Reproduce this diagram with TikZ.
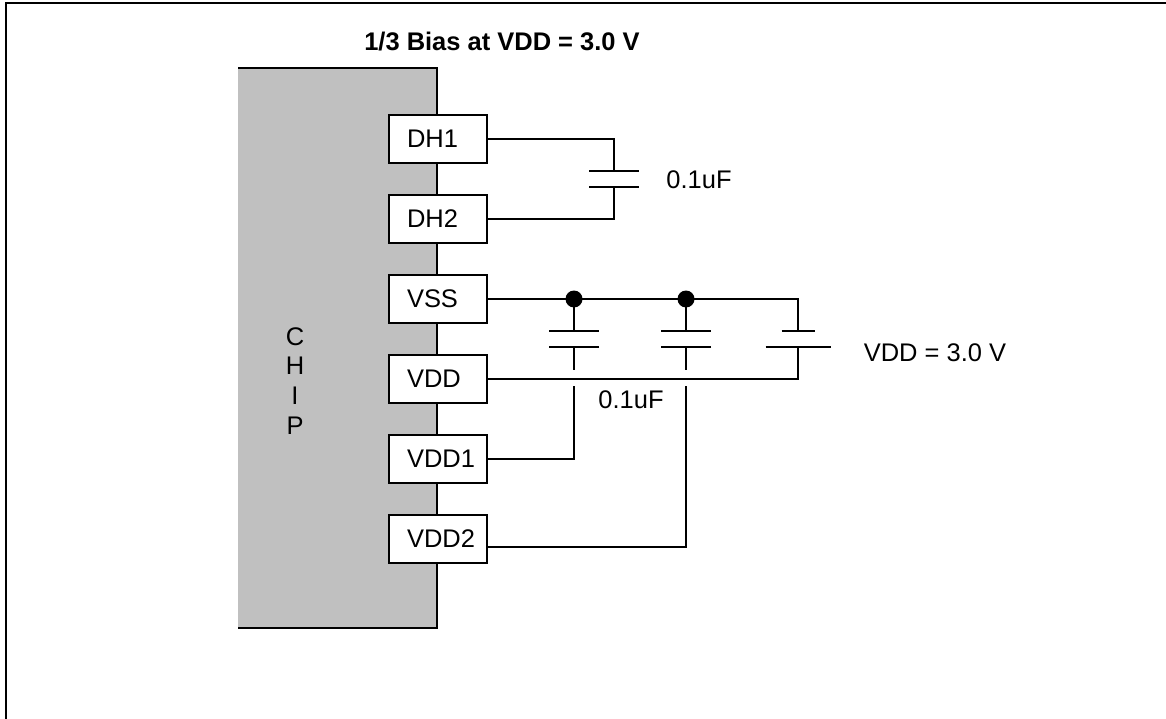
\documentclass[tikz,border=0pt]{standalone}
\usepackage{fontspec}
\setmainfont{Liberation Sans}
\definecolor{chipgray}{RGB}{192,192,192}
\begin{document}
\begin{tikzpicture}[x=0.02cm,y=-0.02cm,line join=miter,line width=1.1pt,
	font=\fontsize{14.5}{17}\selectfont,
	pin/.style={draw,fill=white,minimum height=0.96cm,inner xsep=0.36cm,text width=1.24cm,align=left}]
	\useasboundingbox (0,0) rectangle (1166,719);
	\def\cw{25}
	\path
	(614,171) coordinate (A_1)
	(614,187) coordinate (A_2)
	(574,299) coordinate (B_1)
	(686,299) coordinate (B_2)
	(574,386) coordinate (D_1)
	(686,386) coordinate (D_2)
	(798,331) coordinate (E_1)
	(798,347) coordinate (E_2)
	;
	% frame
	\draw[line width=1.7pt] (6,719)--(6,3)--(1166,3);
	% chip
	\fill[chipgray] (238,68) rectangle (437,628);
	\draw (238,68)--(437,68)--(437,628)--(238,628);
	\node[align=center] (chip) at (295,381) {C\\H\\I\\P};
	\node[font=\fontsize{14.5}{17}\selectfont\bfseries] (title) at (502,42) {1/3 Bias at VDD = 3.0 V};
	\foreach \n/\y in {DH1/139,DH2/219,VSS/299,VDD/379,VDD1/459,VDD2/539}
	{\node[pin] (\n) at (438,\y) {\n};}
	% DH capacitor
	\draw
	(DH1.east) -| (A_1) (DH2.east) -| (A_2)
	([xshift=-\cw*0.02cm]A_1)--([xshift=\cw*0.02cm]A_1)
	([xshift=-\cw*0.02cm]A_2)--([xshift=\cw*0.02cm]A_2)
	;
	% supply capacitors
	\foreach \c in {B_1,B_2}
	{\draw (\c)--++(0,32) ++(-\cw,0)--++(2*\cw,0) ++(0,16)--++(-2*\cw,0) ++(\cw,0)--++(0,23);
	 \fill (\c) circle (0.17cm);}
	\draw
	(VSS.east) -| (E_1) (VDD.east) -| (E_2)
	([xshift=-16.5*0.02cm]E_1)--([xshift=16.5*0.02cm]E_1)
	([xshift=-32.5*0.02cm]E_2)--([xshift=32.5*0.02cm]E_2)
	(VDD1.east) -| (D_1) ([yshift=-0.16cm]VDD2.east) -| (D_2)
	;
	\node (c1) at (699,180) {0.1uF};
	\node (c2) at (631,400) {0.1uF};
	\node (vdd) at (935,353) {VDD = 3.0 V};
\end{tikzpicture}
\end{document}
